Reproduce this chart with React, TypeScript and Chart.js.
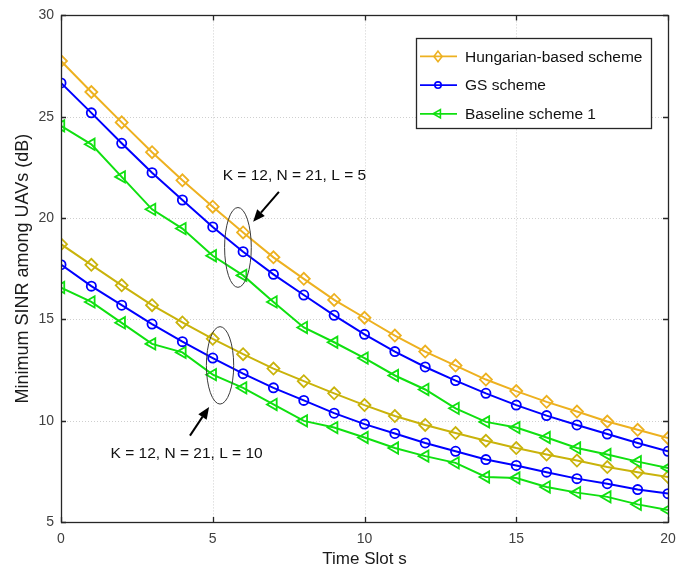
import React, { useEffect, useRef } from "react";
import { Chart, registerables } from "chart.js";

Chart.register(...registerables);

const slots = [0, 1, 2, 3, 4, 5, 6, 7, 8, 9, 10, 11, 12, 13, 14, 15, 16, 17, 18, 19, 20];
const xTicks = [0, 5, 10, 15, 20];
const yTicks = [5, 10, 15, 20, 25, 30];

const hungL5 = [27.75, 26.22, 24.72, 23.25, 21.86, 20.56, 19.29, 18.06, 17.0, 15.96, 15.08, 14.2, 13.41, 12.72, 12.03, 11.46, 10.93, 10.45, 9.96, 9.55, 9.14];
const gsL5 = [26.67, 25.19, 23.69, 22.24, 20.89, 19.56, 18.34, 17.22, 16.2, 15.2, 14.26, 13.41, 12.65, 11.98, 11.35, 10.77, 10.25, 9.79, 9.34, 8.9, 8.49];
const baseL5 = [24.55, 23.64, 22.03, 20.43, 19.48, 18.14, 17.17, 15.86, 14.6, 13.87, 13.09, 12.23, 11.54, 10.61, 9.94, 9.66, 9.17, 8.65, 8.33, 7.98, 7.66];
const hungL10 = [18.71, 17.69, 16.68, 15.7, 14.85, 14.04, 13.28, 12.57, 11.95, 11.35, 10.77, 10.23, 9.79, 9.39, 9.01, 8.65, 8.33, 8.03, 7.71, 7.46, 7.22];
const gsL10 = [17.7, 16.64, 15.7, 14.77, 13.9, 13.09, 12.32, 11.62, 11.0, 10.37, 9.83, 9.37, 8.9, 8.49, 8.08, 7.79, 7.46, 7.14, 6.89, 6.6, 6.4];
const baseL10 = [16.57, 15.86, 14.83, 13.79, 13.37, 12.27, 11.62, 10.8, 9.99, 9.66, 9.17, 8.65, 8.25, 7.92, 7.22, 7.17, 6.73, 6.45, 6.24, 5.87, 5.59];

const legendLabels = ["Hungarian-based scheme", "GS scheme", "Baseline scheme 1"];

// annotations in data coordinates
const annoTexts = ["K = 12, N = 21, L = 5", "K = 12, N = 21, L = 10"];
const annoTextPos = [[7.69, 22.07], [4.14, 8.38]];
const ellipseCenters = [[5.83, 18.55], [5.24, 12.73]];
const ellipseRadii = [[0.44, 1.97], [0.45, 1.91]];
const arrowTails = [[7.18, 21.29], [4.25, 9.26]];
const arrowHeads = [[6.33, 19.82], [4.88, 10.68]];

const FONT = "'Liberation Sans', Arial, sans-serif";
const ORANGE = "#EDB120";
const OLIVE = "#C9B30B";
const BLUE = "#0000FF";
const GREEN = "#10E010";

function mk(label: string, values: number[], color: string, style: string, radius: number, rot: number) {
  return {
    label,
    data: slots.map((s, i) => ({ x: s, y: values[i] })),
    borderColor: color,
    backgroundColor: color,
    borderWidth: 2,
    pointStyle: style,
    pointRadius: radius,
    pointRotation: rot,
    pointBorderWidth: 1.8,
    pointBorderColor: color,
    pointBackgroundColor: "rgba(0,0,0,0)",
    tension: 0,
    fill: false,
  };
}

function drawMarker(ctx: CanvasRenderingContext2D, style: string, x: number, y: number, r: number, rot: number, color: string) {
  ctx.save();
  ctx.strokeStyle = color;
  ctx.lineWidth = 1.6;
  ctx.beginPath();
  if (style === "circle") {
    ctx.arc(x, y, r, 0, Math.PI * 2);
  } else if (style === "rectRot") {
    ctx.moveTo(x, y - r * 1.1);
    ctx.lineTo(x + r * 0.85, y);
    ctx.lineTo(x, y + r * 1.1);
    ctx.lineTo(x - r * 0.85, y);
    ctx.closePath();
  } else {
    let a = (rot * Math.PI) / 180;
    ctx.moveTo(x + Math.sin(a) * r, y - Math.cos(a) * r);
    a += (2 * Math.PI) / 3;
    ctx.lineTo(x + Math.sin(a) * r, y - Math.cos(a) * r);
    a += (2 * Math.PI) / 3;
    ctx.lineTo(x + Math.sin(a) * r, y - Math.cos(a) * r);
    ctx.closePath();
  }
  ctx.stroke();
  ctx.restore();
}

const framePlugin = {
  id: "frame",
  beforeDatasetsDraw(chart: any) {
    const { ctx, chartArea: a, scales } = chart;
    ctx.save();
    ctx.strokeStyle = "#CFCFCF";
    ctx.lineWidth = 1;
    ctx.setLineDash([1, 2]);
    xTicks.forEach((t) => {
      const px = Math.round(scales.x.getPixelForValue(t)) + 0.5;
      ctx.beginPath();
      ctx.moveTo(px, a.top);
      ctx.lineTo(px, a.bottom);
      ctx.stroke();
    });
    yTicks.forEach((t) => {
      const py = Math.round(scales.y.getPixelForValue(t)) + 0.5;
      ctx.beginPath();
      ctx.moveTo(a.left, py);
      ctx.lineTo(a.right, py);
      ctx.stroke();
    });
    ctx.restore();
  },
  afterDatasetsDraw(chart: any) {
    const { ctx, chartArea: a, scales } = chart;
    const sx = scales.x, sy = scales.y;
    ctx.save();
    ctx.strokeStyle = "#262626";
    ctx.lineWidth = 1.3;
    ctx.setLineDash([]);
    ctx.strokeRect(Math.round(a.left) + 0.5, Math.round(a.top) + 0.5, Math.round(a.right - a.left), Math.round(a.bottom - a.top));
    const tl = 5;
    xTicks.forEach((t) => {
      const px = Math.round(sx.getPixelForValue(t)) + 0.5;
      ctx.beginPath();
      ctx.moveTo(px, a.bottom);
      ctx.lineTo(px, a.bottom - tl);
      ctx.moveTo(px, a.top);
      ctx.lineTo(px, a.top + tl);
      ctx.stroke();
    });
    yTicks.forEach((t) => {
      const py = Math.round(sy.getPixelForValue(t)) + 0.5;
      ctx.beginPath();
      ctx.moveTo(a.left, py);
      ctx.lineTo(a.left + tl, py);
      ctx.moveTo(a.right, py);
      ctx.lineTo(a.right - tl, py);
      ctx.stroke();
    });

    // annotations
    ctx.strokeStyle = "#3a3a3a";
    ctx.lineWidth = 1;
    ellipseCenters.forEach((c, i) => {
      const cx = sx.getPixelForValue(c[0]);
      const cy = sy.getPixelForValue(c[1]);
      const rx = Math.abs(sx.getPixelForValue(c[0] + ellipseRadii[i][0]) - cx);
      const ry = Math.abs(sy.getPixelForValue(c[1] + ellipseRadii[i][1]) - cy);
      ctx.beginPath();
      ctx.ellipse(cx, cy, rx, ry, 0, 0, Math.PI * 2);
      ctx.stroke();
    });
    ctx.strokeStyle = "#000";
    ctx.fillStyle = "#000";
    arrowTails.forEach((t, i) => {
      const x1 = sx.getPixelForValue(t[0]);
      const y1 = sy.getPixelForValue(t[1]);
      const x2 = sx.getPixelForValue(arrowHeads[i][0]);
      const y2 = sy.getPixelForValue(arrowHeads[i][1]);
      const ang = Math.atan2(y2 - y1, x2 - x1);
      const hl = 12, hw = 5;
      const bx = x2 - hl * Math.cos(ang);
      const by = y2 - hl * Math.sin(ang);
      ctx.lineWidth = 2;
      ctx.beginPath();
      ctx.moveTo(x1, y1);
      ctx.lineTo(bx, by);
      ctx.stroke();
      ctx.beginPath();
      ctx.moveTo(x2, y2);
      ctx.lineTo(bx + hw * Math.sin(ang), by - hw * Math.cos(ang));
      ctx.lineTo(bx - hw * Math.sin(ang), by + hw * Math.cos(ang));
      ctx.closePath();
      ctx.fill();
    });
    ctx.font = `15.5px ${FONT}`;
    ctx.textAlign = "center";
    ctx.textBaseline = "middle";
    ctx.fillStyle = "#111";
    annoTexts.forEach((txt, i) => {
      ctx.fillText(txt, sx.getPixelForValue(annoTextPos[i][0]), sy.getPixelForValue(annoTextPos[i][1]));
    });

    // legend
    const lx = a.right - 252, ly = a.top + 23, lw = 235, lh = 90;
    ctx.fillStyle = "#fff";
    ctx.fillRect(lx, ly, lw, lh);
    ctx.strokeStyle = "#262626";
    ctx.lineWidth = 1.3;
    ctx.strokeRect(Math.round(lx) + 0.5, Math.round(ly) + 0.5, lw, lh);
    const ds = chart.data.datasets;
    legendLabels.forEach((lab, i) => {
      const d = ds[i];
      const yy = ly + 18 + i * 28.7;
      ctx.strokeStyle = d.borderColor;
      ctx.lineWidth = 1.8;
      ctx.beginPath();
      ctx.moveTo(lx + 4, yy);
      ctx.lineTo(lx + 41, yy);
      ctx.stroke();
      const style = d.pointStyle;
      const r = style === "circle" ? 3.2 : 4.8;
      drawMarker(ctx, style, lx + 22, yy, r, d.pointRotation, d.borderColor);
      ctx.fillStyle = "#111";
      ctx.font = `15.5px ${FONT}`;
      ctx.textAlign = "left";
      ctx.textBaseline = "middle";
      ctx.fillText(lab, lx + 49, yy + 1);
    });
    ctx.restore();
  },
};

export default function App() {
  const ref = useRef<HTMLCanvasElement | null>(null);
  useEffect(() => {
    if (!ref.current) return;
    const chart = new Chart(ref.current, {
      type: "line",
      data: {
        datasets: [
          mk("Hungarian-based scheme", hungL5, ORANGE, "rectRot", 6, 0),
          mk("GS scheme", gsL5, BLUE, "circle", 4.6, 0),
          mk("Baseline scheme 1", baseL5, GREEN, "triangle", 6.5, -90),
          mk("Hungarian-based scheme L10", hungL10, OLIVE, "rectRot", 6, 0),
          mk("GS scheme L10", gsL10, BLUE, "circle", 4.6, 0),
          mk("Baseline scheme 1 L10", baseL10, GREEN, "triangle", 6.5, -90),
        ] as any,
      },
      options: {
        animation: false,
        responsive: false,
        devicePixelRatio: 1,
        layout: { padding: { top: 11, right: 26, left: 0, bottom: 0 } },
        plugins: { legend: { display: false }, tooltip: { enabled: false } },
        elements: { point: { hitRadius: 0 } },
        scales: {
          x: {
            type: "linear",
            min: 0,
            max: 20,
            afterBuildTicks: (s: any) => {
              s.ticks = xTicks.map((v) => ({ value: v }));
            },
            afterFit: (s: any) => {
              s.height = 52;
            },
            ticks: { color: "#404040", font: { family: FONT, size: 14 }, padding: 9 },
            grid: { display: false, drawTicks: false },
            border: { display: false },
            title: {
              display: true,
              text: "Time Slot s",
              color: "#1a1a1a",
              font: { family: FONT, size: 17 },
              padding: { top: 0, bottom: 4 },
            },
          },
          y: {
            type: "linear",
            min: 5,
            max: 30,
            afterBuildTicks: (s: any) => {
              s.ticks = yTicks.map((v) => ({ value: v }));
            },
            afterFit: (s: any) => {
              s.width = 61;
            },
            ticks: { color: "#404040", font: { family: FONT, size: 14 }, padding: 7 },
            grid: { display: false, drawTicks: false },
            border: { display: false },
            title: {
              display: true,
              text: "Minimum SINR among UAVs (dB)",
              color: "#1a1a1a",
              font: { family: FONT, size: 18 },
              padding: { top: 12, bottom: 0 },
            },
          },
        },
      } as any,
      plugins: [framePlugin],
    });
    return () => chart.destroy();
  }, []);
  return (
    <div style={{ position: "fixed", left: 0, top: 0, width: 694, height: 574, background: "#fff" }}>
      <canvas ref={ref} width={694} height={574} style={{ display: "block" }} />
    </div>
  );
}
